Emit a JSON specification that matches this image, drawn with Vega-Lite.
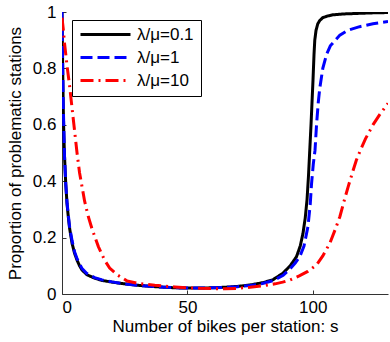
{
  "$schema": "https://vega.github.io/schema/vega-lite/v6.json",
  "width": 326,
  "height": 282,
  "autosize": {"type": "none"},
  "padding": {"left": 62, "top": 12, "right": 2, "bottom": 48},
  "background": "white",
  "config": {
    "view": {"stroke": null},
    "font": "Liberation Sans",
    "axis": {
      "grid": false,
      "domainColor": "#333333",
      "tickColor": "#333333",
      "labelColor": "black",
      "titleColor": "black",
      "labelFont": "Liberation Sans",
      "titleFont": "Liberation Sans",
      "labelFontSize": 17,
      "titleFontSize": 17,
      "titleFontWeight": "normal",
      "tickSize": -4
    },
    "legend": {
      "labelFont": "Liberation Sans",
      "labelFontSize": 17,
      "labelColor": "black"
    }
  },
  "data": {
    "values": [
      {"s": 0, "p": 1.0, "series": "λ/μ=0.1"},
      {"s": 0.25, "p": 0.82, "series": "λ/μ=0.1"},
      {"s": 0.5, "p": 0.66, "series": "λ/μ=0.1"},
      {"s": 0.75, "p": 0.56, "series": "λ/μ=0.1"},
      {"s": 1, "p": 0.49, "series": "λ/μ=0.1"},
      {"s": 1.5, "p": 0.39, "series": "λ/μ=0.1"},
      {"s": 2, "p": 0.32, "series": "λ/μ=0.1"},
      {"s": 2.5, "p": 0.275, "series": "λ/μ=0.1"},
      {"s": 3, "p": 0.235, "series": "λ/μ=0.1"},
      {"s": 4, "p": 0.18, "series": "λ/μ=0.1"},
      {"s": 5, "p": 0.145, "series": "λ/μ=0.1"},
      {"s": 6, "p": 0.12, "series": "λ/μ=0.1"},
      {"s": 7, "p": 0.1, "series": "λ/μ=0.1"},
      {"s": 8, "p": 0.085, "series": "λ/μ=0.1"},
      {"s": 10, "p": 0.068, "series": "λ/μ=0.1"},
      {"s": 13, "p": 0.056, "series": "λ/μ=0.1"},
      {"s": 16, "p": 0.048, "series": "λ/μ=0.1"},
      {"s": 20, "p": 0.042, "series": "λ/μ=0.1"},
      {"s": 24, "p": 0.037, "series": "λ/μ=0.1"},
      {"s": 30, "p": 0.031, "series": "λ/μ=0.1"},
      {"s": 37, "p": 0.026, "series": "λ/μ=0.1"},
      {"s": 45, "p": 0.022, "series": "λ/μ=0.1"},
      {"s": 50, "p": 0.021, "series": "λ/μ=0.1"},
      {"s": 55, "p": 0.021, "series": "λ/μ=0.1"},
      {"s": 60, "p": 0.022, "series": "λ/μ=0.1"},
      {"s": 65, "p": 0.024, "series": "λ/μ=0.1"},
      {"s": 70, "p": 0.027, "series": "λ/μ=0.1"},
      {"s": 75, "p": 0.032, "series": "λ/μ=0.1"},
      {"s": 80, "p": 0.04, "series": "λ/μ=0.1"},
      {"s": 84, "p": 0.05, "series": "λ/μ=0.1"},
      {"s": 88, "p": 0.073, "series": "λ/μ=0.1"},
      {"s": 91, "p": 0.1, "series": "λ/μ=0.1"},
      {"s": 93.5, "p": 0.132, "series": "λ/μ=0.1"},
      {"s": 95, "p": 0.17, "series": "λ/μ=0.1"},
      {"s": 96.1, "p": 0.215, "series": "λ/μ=0.1"},
      {"s": 97, "p": 0.27, "series": "λ/μ=0.1"},
      {"s": 97.7, "p": 0.333, "series": "λ/μ=0.1"},
      {"s": 98.3, "p": 0.42, "series": "λ/μ=0.1"},
      {"s": 98.8, "p": 0.51, "series": "λ/μ=0.1"},
      {"s": 99.3, "p": 0.6, "series": "λ/μ=0.1"},
      {"s": 99.7, "p": 0.68, "series": "λ/μ=0.1"},
      {"s": 100.1, "p": 0.76, "series": "λ/μ=0.1"},
      {"s": 100.5, "p": 0.85, "series": "λ/μ=0.1"},
      {"s": 100.8, "p": 0.9, "series": "λ/μ=0.1"},
      {"s": 101.3, "p": 0.935, "series": "λ/μ=0.1"},
      {"s": 102, "p": 0.958, "series": "λ/μ=0.1"},
      {"s": 102.8, "p": 0.97, "series": "λ/μ=0.1"},
      {"s": 104, "p": 0.98, "series": "λ/μ=0.1"},
      {"s": 106, "p": 0.986, "series": "λ/μ=0.1"},
      {"s": 108, "p": 0.99, "series": "λ/μ=0.1"},
      {"s": 112, "p": 0.993, "series": "λ/μ=0.1"},
      {"s": 118, "p": 0.995, "series": "λ/μ=0.1"},
      {"s": 124, "p": 0.997, "series": "λ/μ=0.1"},
      {"s": 130, "p": 0.998, "series": "λ/μ=0.1"},

      {"s": 0, "p": 1.0, "series": "λ/μ=1"},
      {"s": 0.25, "p": 0.82, "series": "λ/μ=1"},
      {"s": 0.5, "p": 0.67, "series": "λ/μ=1"},
      {"s": 1, "p": 0.49, "series": "λ/μ=1"},
      {"s": 1.5, "p": 0.39, "series": "λ/μ=1"},
      {"s": 2, "p": 0.325, "series": "λ/μ=1"},
      {"s": 3, "p": 0.24, "series": "λ/μ=1"},
      {"s": 4, "p": 0.19, "series": "λ/μ=1"},
      {"s": 5, "p": 0.15, "series": "λ/μ=1"},
      {"s": 6, "p": 0.125, "series": "λ/μ=1"},
      {"s": 8, "p": 0.09, "series": "λ/μ=1"},
      {"s": 10, "p": 0.072, "series": "λ/μ=1"},
      {"s": 13, "p": 0.058, "series": "λ/μ=1"},
      {"s": 16, "p": 0.05, "series": "λ/μ=1"},
      {"s": 20, "p": 0.043, "series": "λ/μ=1"},
      {"s": 25, "p": 0.036, "series": "λ/μ=1"},
      {"s": 30, "p": 0.031, "series": "λ/μ=1"},
      {"s": 37, "p": 0.026, "series": "λ/μ=1"},
      {"s": 45, "p": 0.022, "series": "λ/μ=1"},
      {"s": 50, "p": 0.021, "series": "λ/μ=1"},
      {"s": 55, "p": 0.021, "series": "λ/μ=1"},
      {"s": 60, "p": 0.022, "series": "λ/μ=1"},
      {"s": 65, "p": 0.023, "series": "λ/μ=1"},
      {"s": 70, "p": 0.026, "series": "λ/μ=1"},
      {"s": 75, "p": 0.03, "series": "λ/μ=1"},
      {"s": 80, "p": 0.037, "series": "λ/μ=1"},
      {"s": 84, "p": 0.047, "series": "λ/μ=1"},
      {"s": 88.2, "p": 0.066, "series": "λ/μ=1"},
      {"s": 91, "p": 0.09, "series": "λ/μ=1"},
      {"s": 93, "p": 0.11, "series": "λ/μ=1"},
      {"s": 94.8, "p": 0.132, "series": "λ/μ=1"},
      {"s": 96.5, "p": 0.17, "series": "λ/μ=1"},
      {"s": 98.1, "p": 0.24, "series": "λ/μ=1"},
      {"s": 99, "p": 0.32, "series": "λ/μ=1"},
      {"s": 99.5, "p": 0.39, "series": "λ/μ=1"},
      {"s": 100.2, "p": 0.46, "series": "λ/μ=1"},
      {"s": 100.9, "p": 0.51, "series": "λ/μ=1"},
      {"s": 101.5, "p": 0.6, "series": "λ/μ=1"},
      {"s": 102.2, "p": 0.68, "series": "λ/μ=1"},
      {"s": 102.8, "p": 0.73, "series": "λ/μ=1"},
      {"s": 104, "p": 0.8, "series": "λ/μ=1"},
      {"s": 105.5, "p": 0.85, "series": "λ/μ=1"},
      {"s": 107, "p": 0.88, "series": "λ/μ=1"},
      {"s": 110.8, "p": 0.918, "series": "λ/μ=1"},
      {"s": 114, "p": 0.935, "series": "λ/μ=1"},
      {"s": 118.7, "p": 0.948, "series": "λ/μ=1"},
      {"s": 124, "p": 0.958, "series": "λ/μ=1"},
      {"s": 130, "p": 0.966, "series": "λ/μ=1"},

      {"s": 0, "p": 0.98, "series": "λ/μ=10"},
      {"s": 0.5, "p": 0.94, "series": "λ/μ=10"},
      {"s": 1, "p": 0.89, "series": "λ/μ=10"},
      {"s": 2, "p": 0.81, "series": "λ/μ=10"},
      {"s": 3, "p": 0.74, "series": "λ/μ=10"},
      {"s": 4, "p": 0.66, "series": "λ/μ=10"},
      {"s": 5, "p": 0.58, "series": "λ/μ=10"},
      {"s": 6, "p": 0.5, "series": "λ/μ=10"},
      {"s": 7, "p": 0.43, "series": "λ/μ=10"},
      {"s": 8, "p": 0.38, "series": "λ/μ=10"},
      {"s": 9, "p": 0.33, "series": "λ/μ=10"},
      {"s": 10.5, "p": 0.274, "series": "λ/μ=10"},
      {"s": 12, "p": 0.23, "series": "λ/μ=10"},
      {"s": 14.5, "p": 0.168, "series": "λ/μ=10"},
      {"s": 17, "p": 0.12, "series": "λ/μ=10"},
      {"s": 19, "p": 0.092, "series": "λ/μ=10"},
      {"s": 22, "p": 0.068, "series": "λ/μ=10"},
      {"s": 26, "p": 0.046, "series": "λ/μ=10"},
      {"s": 30, "p": 0.038, "series": "λ/μ=10"},
      {"s": 37, "p": 0.031, "series": "λ/μ=10"},
      {"s": 45, "p": 0.025, "series": "λ/μ=10"},
      {"s": 50, "p": 0.022, "series": "λ/μ=10"},
      {"s": 55, "p": 0.02, "series": "λ/μ=10"},
      {"s": 60, "p": 0.019, "series": "λ/μ=10"},
      {"s": 65, "p": 0.019, "series": "λ/μ=10"},
      {"s": 70, "p": 0.02, "series": "λ/μ=10"},
      {"s": 75, "p": 0.024, "series": "λ/μ=10"},
      {"s": 80, "p": 0.029, "series": "λ/μ=10"},
      {"s": 85, "p": 0.036, "series": "λ/μ=10"},
      {"s": 88, "p": 0.042, "series": "λ/μ=10"},
      {"s": 91, "p": 0.05, "series": "λ/μ=10"},
      {"s": 94.8, "p": 0.065, "series": "λ/μ=10"},
      {"s": 98, "p": 0.08, "series": "λ/μ=10"},
      {"s": 101.5, "p": 0.103, "series": "λ/μ=10"},
      {"s": 104, "p": 0.135, "series": "λ/μ=10"},
      {"s": 106.8, "p": 0.18, "series": "λ/μ=10"},
      {"s": 109, "p": 0.23, "series": "λ/μ=10"},
      {"s": 110.8, "p": 0.274, "series": "λ/μ=10"},
      {"s": 112.5, "p": 0.33, "series": "λ/μ=10"},
      {"s": 114.1, "p": 0.38, "series": "λ/μ=10"},
      {"s": 115.8, "p": 0.43, "series": "λ/μ=10"},
      {"s": 117.4, "p": 0.475, "series": "λ/μ=10"},
      {"s": 119, "p": 0.51, "series": "λ/μ=10"},
      {"s": 121, "p": 0.55, "series": "λ/μ=10"},
      {"s": 124, "p": 0.6, "series": "λ/μ=10"},
      {"s": 127, "p": 0.64, "series": "λ/μ=10"},
      {"s": 130, "p": 0.676, "series": "λ/μ=10"}
    ]
  },
  "mark": {"type": "line", "strokeWidth": 3, "clip": true},
  "encoding": {
    "x": {
      "field": "s",
      "type": "quantitative",
      "scale": {"domain": [0, 130], "nice": false},
      "axis": {
        "values": [0, 50, 100],
        "title": "Number of bikes per station: s",
        "labelPadding": 9,
        "titlePadding": 3
      }
    },
    "y": {
      "field": "p",
      "type": "quantitative",
      "scale": {"domain": [0, 1], "nice": false},
      "axis": {
        "values": [0, 0.2, 0.4, 0.6, 0.8, 1],
        "format": "~g",
        "title": "Proportion of problematic stations",
        "labelPadding": 10,
        "titlePadding": 8
      }
    },
    "color": {
      "field": "series",
      "type": "nominal",
      "scale": {"domain": ["λ/μ=0.1", "λ/μ=1", "λ/μ=10"], "range": ["#000000", "#0000ff", "#ff0000"]},
      "legend": {
        "title": null,
        "orient": "none",
        "legendX": 10,
        "legendY": 8,
        "strokeColor": "black",
        "fillColor": "white",
        "padding": 7,
        "symbolType": "stroke",
        "symbolSize": 2500,
        "symbolStrokeWidth": 3,
        "clipHeight": 15,
        "labelOffset": 5,
        "labelLimit": 67,
        "rowPadding": 5
      }
    },
    "strokeDash": {
      "field": "series",
      "type": "nominal",
      "scale": {"domain": ["λ/μ=0.1", "λ/μ=1", "λ/μ=10"], "range": [[1, 0], [12, 5], [13, 5, 2, 5]]},
      "legend": null
    }
  }
}
